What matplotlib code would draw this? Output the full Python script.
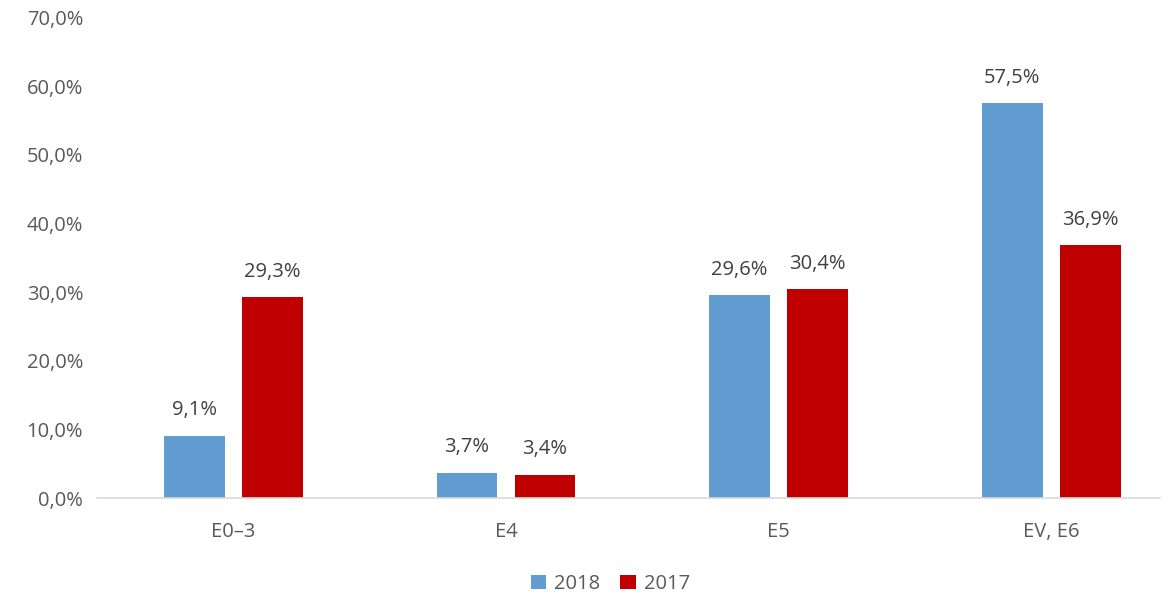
import numpy as np
import matplotlib
matplotlib.use("Agg")
import matplotlib.pyplot as plt
from matplotlib.ticker import FuncFormatter

categories = ["E0–3", "E4", "E5", "EV, E6"]
vals_2018 = [9.1, 3.7, 29.6, 57.5]
vals_2017 = [29.3, 3.4, 30.4, 36.9]
series_names = ["2018", "2017"]

plt.rcParams['font.family'] = ['Open Sans', 'DejaVu Sans']
grey = "#595959"

fig = plt.figure(figsize=(11.76, 5.96), dpi=100)
ax = fig.add_axes([0.0825, 0.1644, 0.9035, 0.806])

x = np.arange(len(categories))
w = 0.223
off = 0.143
b1 = ax.bar(x - off, vals_2018, w, color="#619dd1", label=series_names[0])
b2 = ax.bar(x + off, vals_2017, w, color="#c00000", label=series_names[1])

for bars in (b1, b2):
    for r in bars:
        h = r.get_height()
        ax.annotate(f"{h:.1f}%".replace(".", ","), (r.get_x() + r.get_width() / 2, h),
                    xytext=(0, 11), textcoords="offset points", ha="center", va="bottom",
                    fontsize=14.5, color="#404040")

ax.set_xlim(-0.5, 3.397)
ax.set_ylim(0, 70)
ax.set_yticks(np.arange(0, 71, 10))
ax.yaxis.set_major_formatter(FuncFormatter(lambda v, p: f"{v:.1f}%".replace(".", ",")))
ax.set_xticks(x)
ax.set_xticklabels(categories)
ax.tick_params(axis="both", length=0, labelsize=14.5, labelcolor=grey)
ax.tick_params(axis="x", pad=17)
ax.tick_params(axis="y", pad=10)
for s in ["top", "right", "left"]:
    ax.spines[s].set_visible(False)
ax.spines["bottom"].set_color("#d9d9d9")
ax.spines["bottom"].set_linewidth(1.2)

fig.legend(loc="lower center", bbox_to_anchor=(0.519, -0.027), ncol=2, frameon=False,
           fontsize=14.5, labelcolor=grey, handlelength=0.75, handleheight=0.75,
           handletextpad=0.4, columnspacing=1.0)

fig.savefig("out.png", dpi=100)
